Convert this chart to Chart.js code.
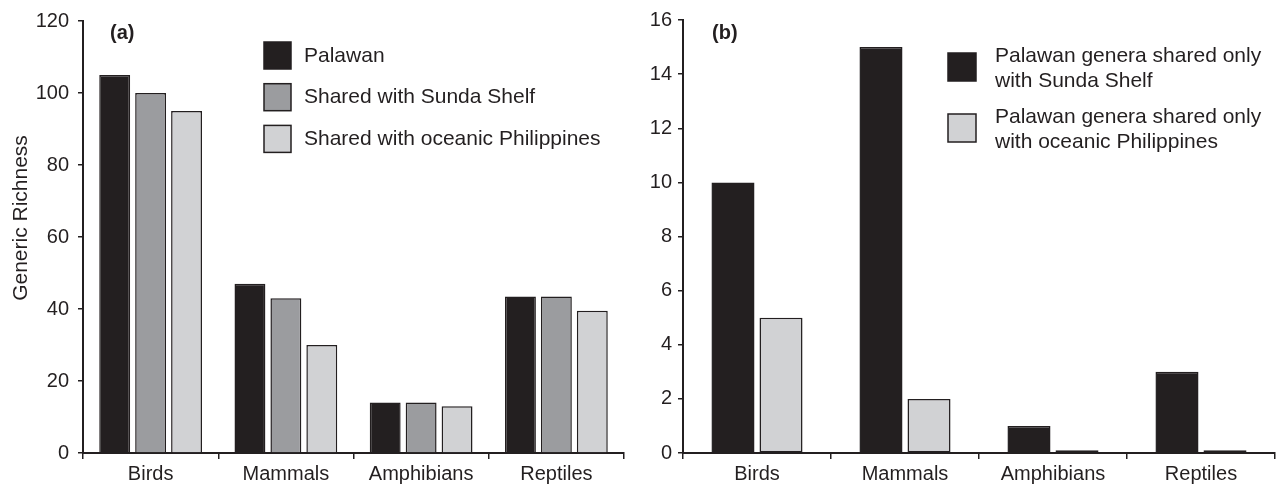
<!DOCTYPE html>
<html>
<head>
<meta charset="utf-8">
<script src="https://cdn.jsdelivr.net/npm/chart.js@4.4.0/dist/chart.umd.min.js"></script>
<style>
html, body { margin: 0; padding: 0; background: #fff; }
#wrap { position: relative; width: 1281px; height: 487px; }
.panel { position: absolute; top: 0; height: 487px; }
</style>
</head>
<body>
<div id="wrap">
  <div class="panel" style="left:0;width:640px"><canvas id="chartA"></canvas></div>
  <div class="panel" style="left:640px;width:641px"><canvas id="chartB"></canvas></div>
</div>
<script>
// data
const groups = ['Birds', 'Mammals', 'Amphibians', 'Reptiles'];
const palawan = [105, 47, 14, 43.5];
const sharedSunda = [100, 43, 14, 43.5];
const sharedOceanic = [95, 30, 13, 39.5];
const ticksA = [0, 20, 40, 60, 80, 100, 120];

const onlySunda = [10, 15, 1, 3];
const onlyOceanic = [5, 2, 0.1, 0.1];
const ticksB = [0, 2, 4, 6, 8, 10, 12, 14, 16];

const ink = '#231f20';
const family = '"Liberation Sans", Arial, Helvetica, sans-serif';

// panel tag, y title and boxed legend, drawn by hand (legend B has two-line labels)
const panelDecor = {
    id: 'panelDecor',
    afterDraw(chart, args, o) {
        const ctx = chart.ctx;
        const area = chart.chartArea;
        ctx.save();
        ctx.fillStyle = ink;
        ctx.textBaseline = 'middle';
        ctx.font = 'bold 20px ' + family;
        ctx.fillText(o.tag, area.left + o.tagDx, area.top + o.tagDy);
        if (o.yTitle) {
            ctx.save();
            ctx.translate(o.yTitleX, o.yTitleY);
            ctx.rotate(-Math.PI / 2);
            ctx.textAlign = 'center';
            ctx.font = '21px ' + family;
            ctx.fillText(o.yTitle, 0, 0);
            ctx.restore();
        }
        ctx.font = o.fontSize + 'px ' + family;
        chart.data.datasets.forEach((ds, i) => {
            const y0 = o.y + i * o.step;
            ctx.fillStyle = ds.backgroundColor;
            ctx.fillRect(o.x, y0, o.box, o.box);
            ctx.lineWidth = 1.5;
            ctx.strokeStyle = ink;
            ctx.strokeRect(o.x, y0, o.box, o.box);
            ctx.fillStyle = ink;
            ds.label.split('\n').forEach((ln, j) => {
                ctx.fillText(ln, o.x + o.textDx, y0 + o.textDy + j * o.lineGap);
            });
        });
        ctx.restore();
    }
};

function scales(ticks, yWidth, tickPad) {
    return {
        x: {
            grid: { offset: true, drawOnChartArea: false, tickLength: 6, color: ink, lineWidth: 1.5 },
            border: { display: true, color: ink, width: 2 },
            ticks: { color: ink, font: { size: 20, family: family }, padding: 3 },
            afterFit: s => { s.height = 34; }
        },
        y: {
            min: ticks[0],
            max: ticks[ticks.length - 1],
            ticks: { stepSize: ticks[1] - ticks[0], color: ink, font: { size: 20, family: family }, padding: tickPad },
            grid: { drawOnChartArea: false, tickLength: 5, color: ink, lineWidth: 1.5 },
            border: { display: true, color: ink, width: 2 },
            afterFit: s => { s.width = yWidth; }
        }
    };
}

const ctxA = document.getElementById('chartA').getContext('2d');
const chartA = new Chart(ctxA, {
    type: 'bar',
    data: {
        labels: groups,
        datasets: [
            { label: 'Palawan', data: palawan, backgroundColor: '#231f20' },
            { label: 'Shared with Sunda Shelf', data: sharedSunda, backgroundColor: '#9b9c9f' },
            { label: 'Shared with oceanic Philippines', data: sharedOceanic, backgroundColor: '#d1d2d4' }
        ]
    },
    options: {
        responsive: true, maintainAspectRatio: false, animation: false,
        layout: { padding: { top: 21, right: 16, left: 0, bottom: 0 } },
        datasets: { bar: { borderColor: ink, borderWidth: 1.5, categoryPercentage: 0.797, barPercentage: 0.86 } },
        plugins: {
            legend: { display: false }, tooltip: { enabled: false },
            panelDecor: {
                tag: '(a)', tagDx: 27, tagDy: 12,
                yTitle: 'Generic Richness', yTitleX: 21, yTitleY: 218,
                x: 264, y: 42, box: 27, step: 41.7, textDx: 40, textDy: 14, lineGap: 25, fontSize: 21
            }
        },
        scales: scales(ticksA, 83, 9)
    },
    plugins: [panelDecor]
});

const ctxB = document.getElementById('chartB').getContext('2d');
const chartB = new Chart(ctxB, {
    type: 'bar',
    data: {
        labels: groups,
        datasets: [
            { label: 'Palawan genera shared only\nwith Sunda Shelf', data: onlySunda, backgroundColor: '#231f20' },
            { label: 'Palawan genera shared only\nwith oceanic Philippines', data: onlyOceanic, backgroundColor: '#d1d2d4', borderSkipped: false }
        ]
    },
    options: {
        responsive: true, maintainAspectRatio: false, animation: false,
        layout: { padding: { top: 20, right: 6, left: 0, bottom: 0 } },
        datasets: { bar: { borderColor: ink, borderWidth: 1.5, categoryPercentage: 0.649, barPercentage: 0.896 } },
        plugins: {
            legend: { display: false }, tooltip: { enabled: false },
            panelDecor: {
                tag: '(b)', tagDx: 29, tagDy: 13,
                x: 308, y: 53, box: 28, step: 61, textDx: 47, textDy: 3, lineGap: 25, fontSize: 21
            }
        },
        scales: scales(ticksB, 43, 6)
    },
    plugins: [panelDecor]
});
</script>
</body>
</html>
